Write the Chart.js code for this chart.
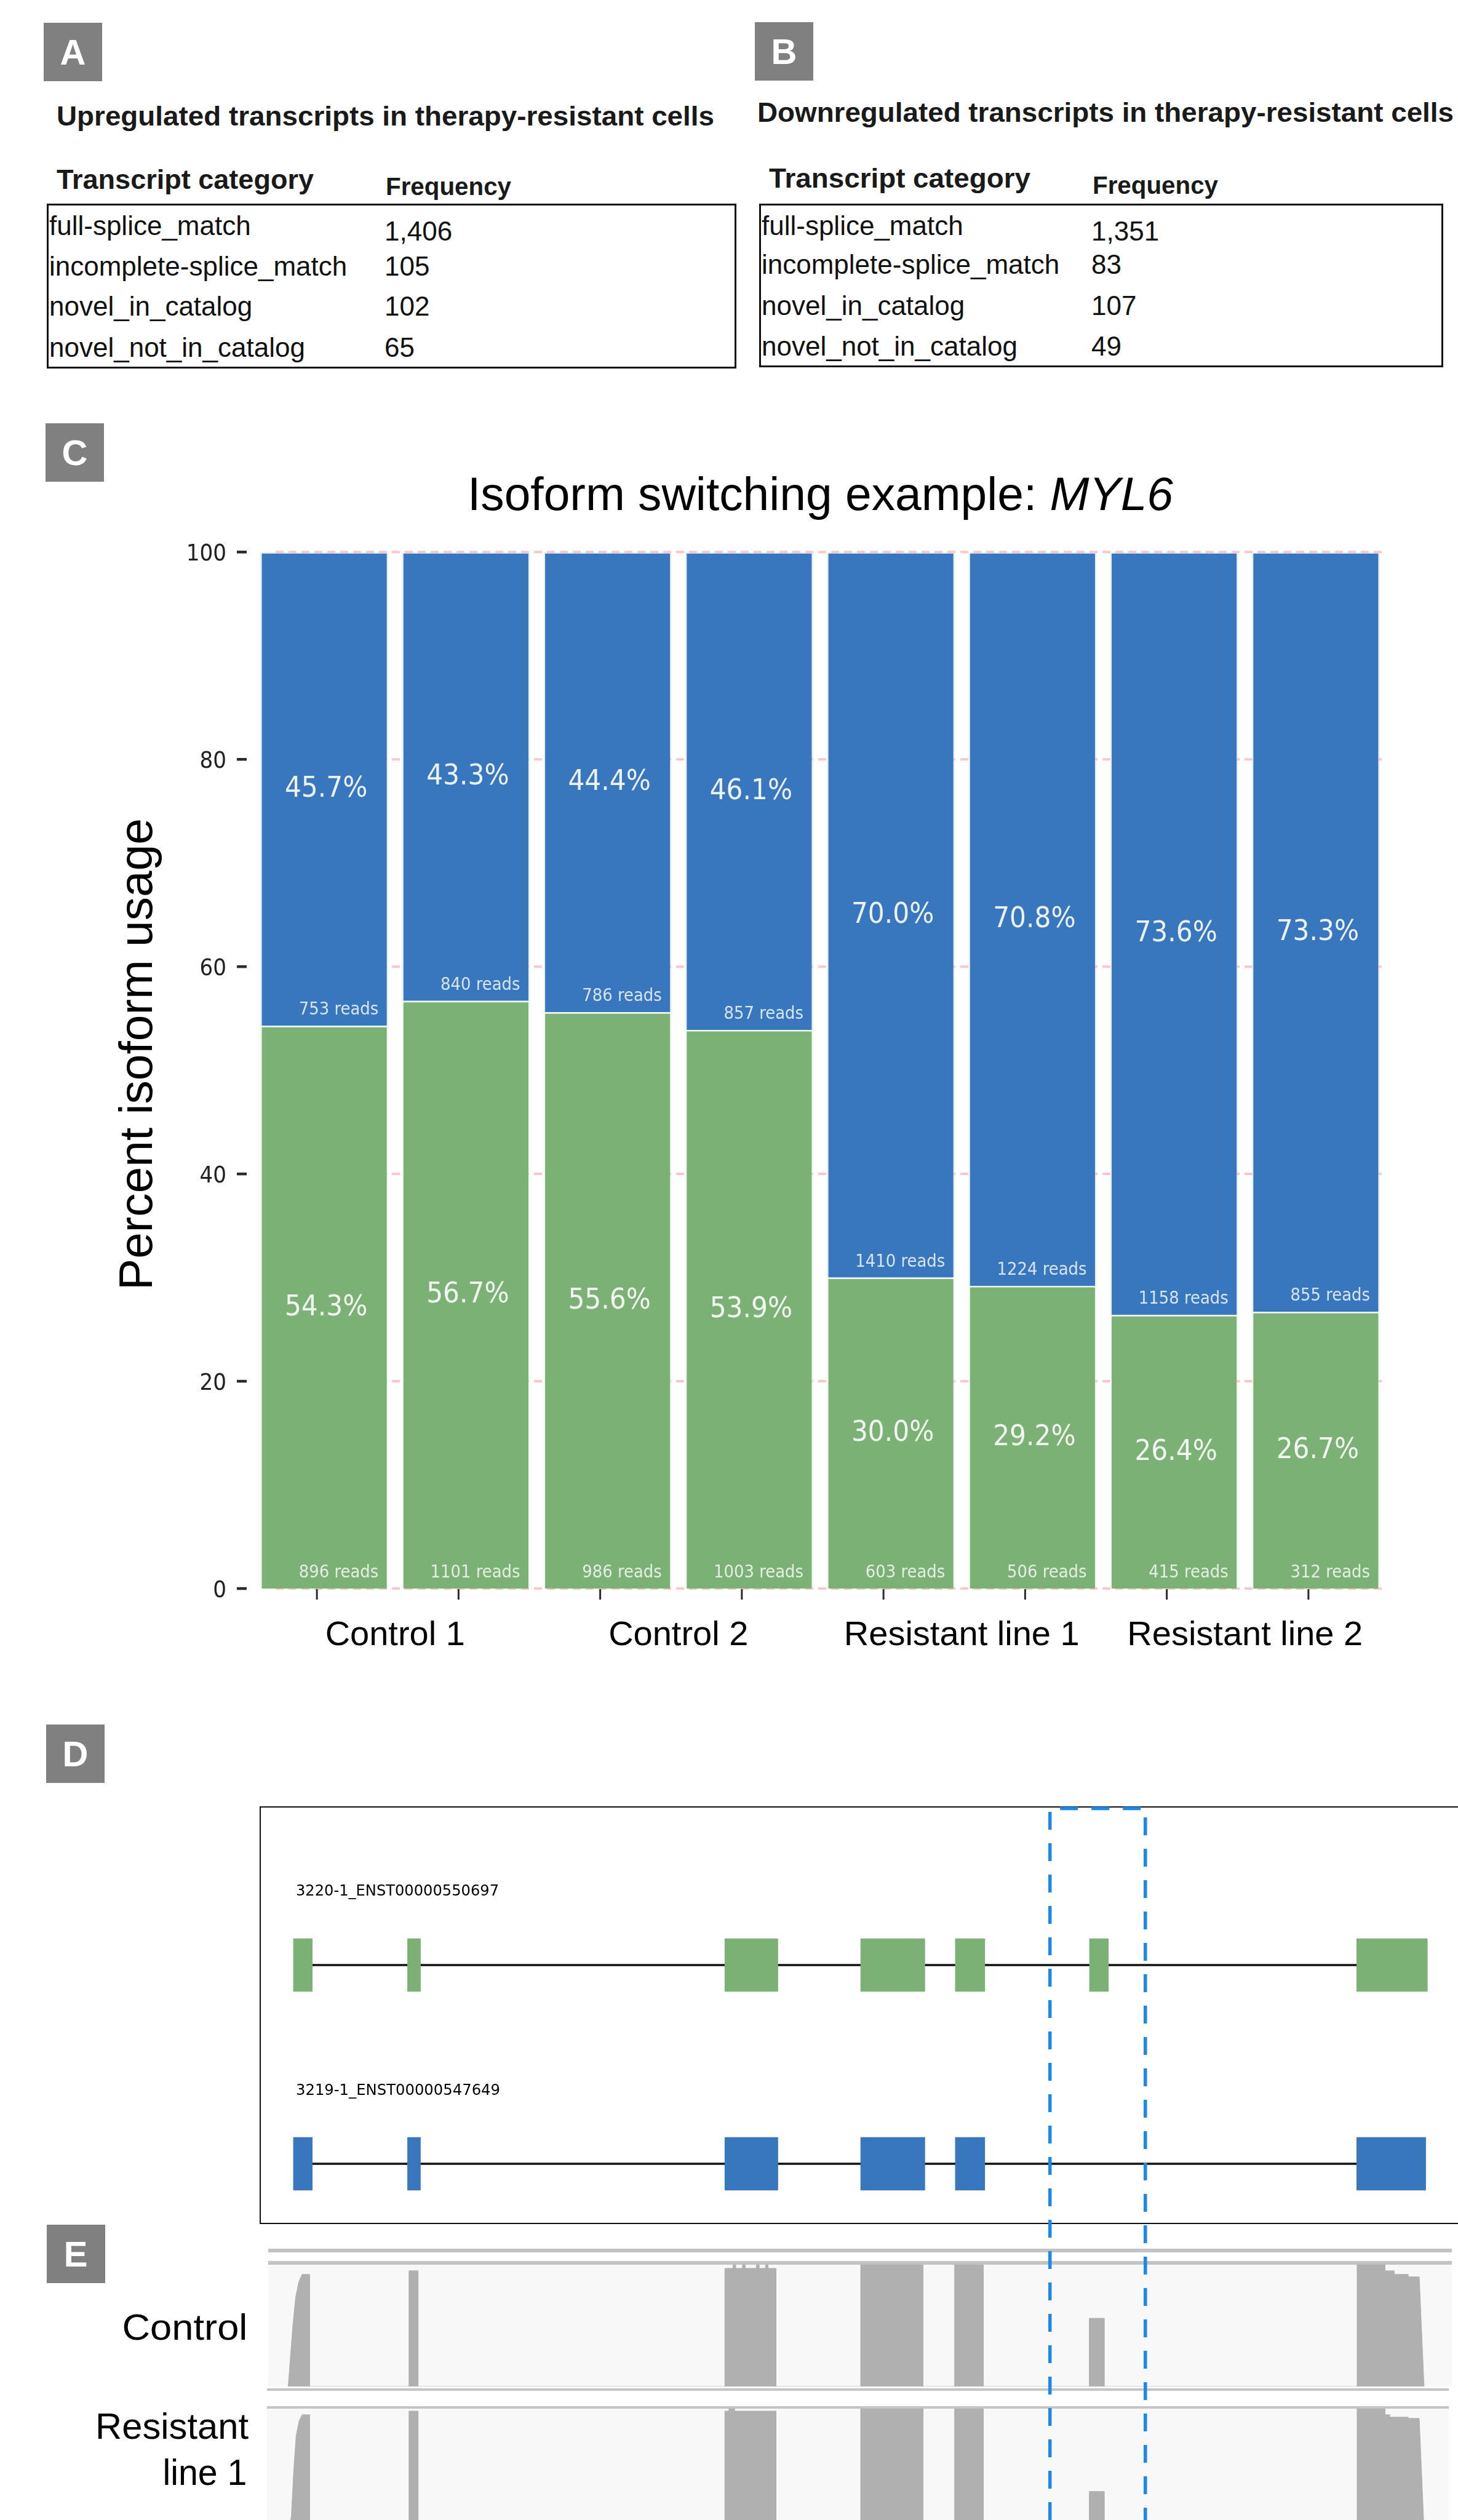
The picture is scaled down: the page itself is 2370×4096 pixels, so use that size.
<!DOCTYPE html>
<html>
<head>
<meta charset="utf-8">
<title>MYL6 isoform switching</title>
<script src="https://cdn.jsdelivr.net/npm/chart.js@4.4.1/dist/chart.umd.min.js"></script>
<style>
  html, body { margin: 0; padding: 0; background: #fff; }
  body { width: 2370px; height: 4096px; position: relative; overflow: hidden; }
  .txt { position: absolute; white-space: pre; z-index: 5; }
  .box { position: absolute; box-sizing: border-box; }
  canvas { position: absolute; }
</style>
</head>
<body>
<script>
// ---------- Panels A / B: transcript categories of regulated isoforms ----------
const transcriptCategories = ['full-splice_match', 'incomplete-splice_match', 'novel_in_catalog', 'novel_not_in_catalog'];
const upregulatedCounts = [1406, 105, 102, 65];
const downregulatedCounts = [1351, 83, 107, 49];

// ---------- Panel C: isoform usage per sample ----------
const sampleGroups = ['Control 1', 'Control 2', 'Resistant line 1', 'Resistant line 2'];
const replicates = ['a', 'b'];
const isoform550697Pct = [54.3, 56.7, 55.6, 53.9, 30.0, 29.2, 26.4, 26.7];
const isoform547649Pct = [45.7, 43.3, 44.4, 46.1, 70.0, 70.8, 73.6, 73.3];
const isoform550697Reads = [896, 1101, 986, 1003, 603, 506, 415, 312];
const isoform547649Reads = [753, 840, 786, 857, 1410, 1224, 1158, 855];
const percentTicks = [0, 20, 40, 60, 80, 100];

// ---------- Panel D: transcript models (bp from locus start) ----------
const transcriptIds = ['3220-1_ENST00000550697', '3219-1_ENST00000547649'];
const transcriptExons = [
  [[183, 285], [798, 868], [2508, 2794], [3240, 3586], [3750, 3909], [4473, 4575], [5913, 6294]],
  [[183, 285], [798, 868], [2508, 2794], [3240, 3586], [3750, 3909], null, [5913, 6285]]
];
const locusRange = [0, 6492];
const skippedExonWindow = [4260, 4774];

// ---------- Panel E: read coverage, [bp, relative depth] ----------
const trackNames = ['Control', 'Resistant line 1'];
const controlCoverage = [
  [155, 0], [165, 20], [180, 50], [195, 73], [212, 86], [230, 92], [270, 92], [270, 0],
  [806, 0], [806, 95], [855, 95], [855, 0],
  [2508, 0], [2508, 97], [2552, 97], [2552, 100], [2566, 100], [2566, 97], [2603, 97], [2603, 100],
  [2617, 100], [2617, 97], [2678, 97], [2678, 100], [2692, 100], [2692, 97], [2727, 97], [2727, 100],
  [2741, 100], [2741, 97], [2784, 97], [2784, 0],
  [3240, 0], [3240, 100], [3576, 100], [3576, 0],
  [3746, 0], [3746, 100], [3901, 100], [3901, 0],
  [4472, 0], [4472, 56], [4552, 56], [4552, 0],
  [5915, 0], [5915, 100], [6065, 100], [6065, 95], [6114, 95], [6114, 92], [6190, 92], [6190, 90], [6250, 90], [6276, 0]
];
const resistantCoverage = [
  [160, 0], [172, 12], [185, 50], [198, 78], [214, 90], [230, 95], [270, 95], [270, 0],
  [806, 0], [806, 98], [855, 98], [855, 0],
  [2508, 0], [2508, 98], [2530, 98], [2530, 100], [2560, 100], [2560, 98], [2784, 98], [2784, 0],
  [3240, 0], [3240, 100], [3576, 100], [3576, 0],
  [3746, 0], [3746, 100], [3901, 100], [3901, 0],
  [4472, 0], [4472, 32], [4552, 32], [4552, 0],
  [5915, 0], [5915, 100], [6065, 100], [6065, 95], [6090, 95], [6090, 93], [6190, 93], [6190, 92], [6250, 92], [6276, 0]
];

// ---------- styling ----------
const GREEN = '#7bb174';
const BLUE = '#3877be';
const HIGHLIGHT = '#1e88e5';
const COVERAGE = '#b0b0b0';
const SANS = "'Liberation Sans', Arial, sans-serif";
const DEJAVU = "'DejaVu Sans', sans-serif";

Chart.defaults.font.family = DEJAVU;

// ---------- text helpers ----------
const mctx = document.createElement('canvas').getContext('2d');
function fontOf(o) {
  return `${o.italic ? 'italic ' : ''}${o.bold ? 'bold ' : ''}${o.size}px ${o.family || SANS}`;
}
// Places text with its baseline at y; x is the left/center/right anchor; optional fit width.
function addText(o) {
  const parts = o.parts || [{ text: o.text }];
  const el = document.createElement('div');
  el.className = 'txt';
  let natural = 0, asc = 0, desc = 0;
  const runs = [];
  for (const p of parts) {
    const f = fontOf({ ...o, ...p });
    mctx.font = f;
    const m = mctx.measureText(p.text);
    natural += m.width;
    asc = Math.max(asc, m.fontBoundingBoxAscent);
    desc = Math.max(desc, m.fontBoundingBoxDescent);
    runs.push([p.text, f]);
  }
  const lh = asc + desc;
  el.style.font = fontOf({ ...o, ...parts[0] });
  el.style.lineHeight = lh + 'px';
  for (const [t, f] of runs) {
    const s = document.createElement('span');
    s.textContent = t;
    s.style.font = f;
    s.style.lineHeight = lh + 'px';
    el.appendChild(s);
  }
  const sx = o.width ? o.width / natural : 1;
  const ox = o.align === 'right' ? natural : o.align === 'center' ? natural / 2 : 0;
  el.style.left = (o.x - ox) + 'px';
  el.style.top = (o.y - asc) + 'px';
  el.style.color = o.color || '#000';
  el.style.transformOrigin = `${ox}px ${asc}px`;
  el.style.transform = (o.rotate ? `rotate(${o.rotate}deg) ` : '') + `scaleX(${sx})`;
  document.body.appendChild(el);
}
function addBox(left, top, width, height, css) {
  const d = document.createElement('div');
  d.className = 'box';
  Object.assign(d.style, { left: left + 'px', top: top + 'px', width: width + 'px', height: height + 'px' }, css);
  document.body.appendChild(d);
  return d;
}
function panelTag(letter, left, top) {
  addBox(left, top, 95, 95, { background: '#808080', zIndex: 4 });
  addText({ text: letter, x: left + 47.5, y: top + 47.5 + 0.716 * 58 / 2, size: 58, bold: true, align: 'center', color: '#fff' });
}
function makeCanvas(left, top, w, h, z) {
  const c = document.createElement('canvas');
  c.width = w; c.height = h;
  Object.assign(c.style, { left: left + 'px', top: top + 'px', width: w + 'px', height: h + 'px', zIndex: z });
  document.body.appendChild(c);
  return c;
}
// Canvas text squeezed horizontally by sx around its anchor.
function squeezedText(ctx, text, x, y, sx, align) {
  ctx.save();
  ctx.translate(x, y);
  ctx.scale(sx, 1);
  ctx.textAlign = align;
  ctx.textBaseline = 'alphabetic';
  ctx.fillText(text, 0, 0);
  ctx.restore();
}
const fmt = n => n.toLocaleString('en-US');

// ---------- Panels A and B: category tables ----------
function categoryTable(cfg) {
  panelTag(cfg.tag, cfg.tagX, cfg.tagY);
  addText({ text: cfg.title, x: cfg.titleX, width: cfg.titleW, y: cfg.titleY, size: 45, bold: true, color: '#1a1a1a' });
  addText({ text: 'Transcript category', x: cfg.titleX + cfg.headOff, width: cfg.headW, y: cfg.headY, size: 45, bold: true, color: '#1a1a1a' });
  addText({ text: 'Frequency', x: cfg.valueX + 2, width: 204, y: cfg.headY + 10, size: 40, bold: true, color: '#1a1a1a' });
  addBox(cfg.boxX, 331, cfg.boxW, cfg.boxH, { border: '3px solid #111' });
  transcriptCategories.forEach((cat, i) => {
    addText({ text: cat, x: cfg.boxX + 4, y: cfg.rowY[i], size: 44, color: '#111' });
    addText({ text: fmt(cfg.counts[i]), x: cfg.valueX, y: cfg.rowY[i] + (i === 0 ? 9 : 0), size: 44, color: '#111' });
  });
}
categoryTable({
  tag: 'A', tagX: 71, tagY: 37, title: 'Upregulated transcripts in therapy-resistant cells',
  titleX: 92, titleW: 1069, titleY: 204, headOff: 0, headW: 418, headY: 307,
  valueX: 625, boxX: 76, boxW: 1121, boxH: 268, rowY: [382, 448, 513, 580], counts: upregulatedCounts
});
categoryTable({
  tag: 'B', tagX: 1227, tagY: 36, title: 'Downregulated transcripts in therapy-resistant cells',
  titleX: 1231, titleW: 1132, titleY: 198, headOff: 19, headW: 425, headY: 305,
  valueX: 1774, boxX: 1234, boxW: 1112, boxH: 266, rowY: [382, 445, 512, 578], counts: downregulatedCounts
});

// ---------- Panel C: stacked isoform usage ----------
panelTag('C', 74, 688);
addText({ parts: [{ text: 'Isoform switching example: ' }, { text: 'MYL6', italic: true }], x: 760, width: 1147, y: 829, size: 76 });
addText({ text: 'Percent isoform usage', x: 247, y: 1713 + 767 / 2, width: 767, size: 76, rotate: -90 });

const sampleLabels = sampleGroups.flatMap(g => replicates.map(r => `${g} ${r}`));
const TICK_SHIFT = -12;
const PLOT_TOP = 47.3;

const usagePlugin = {
  id: 'usageDecor',
  beforeDatasetsDraw(chart) {
    const { ctx, chartArea, scales: { y } } = chart;
    ctx.save();
    ctx.strokeStyle = '#ffc6c6';
    ctx.lineWidth = 4;
    ctx.setLineDash([13, 8]);
    percentTicks.forEach(v => {
      const py = y.getPixelForValue(v);
      ctx.beginPath(); ctx.moveTo(chartArea.left + 36, py); ctx.lineTo(chartArea.right, py); ctx.stroke();
    });
    ctx.restore();
  },
  afterDatasetsDraw(chart) {
    const { ctx } = chart;
    ctx.save();
    chart.data.datasets.forEach((ds, di) => {
      chart.getDatasetMeta(di).data.forEach((bar, i) => {
        const { x, y, base, width } = bar.getProps(['x', 'y', 'base', 'width'], true);
        const top = Math.min(y, base), bottom = Math.max(y, base);
        ctx.fillStyle = 'rgba(255,255,255,0.9)';
        ctx.font = `46px ${DEJAVU}`;
        squeezedText(ctx, ds.data[i].toFixed(1) + '%', x + 3, (top + bottom) / 2 + 13, 0.92, 'center');
        ctx.fillStyle = 'rgba(255,255,255,0.8)';
        ctx.font = `28px ${DEJAVU}`;
        squeezedText(ctx, `${ds.reads[i]} reads`, x + width / 2 - 16, bottom - 18, 0.925, 'right');
      });
    });
    ctx.restore();
  },
  afterDraw(chart) {
    const { ctx, chartArea, scales: { y } } = chart;
    const bars = chart.getDatasetMeta(0).data;
    ctx.save();
    // value axis: tick marks and labels
    ctx.strokeStyle = '#2b2b2b';
    ctx.fillStyle = '#222';
    ctx.font = `38px ${DEJAVU}`;
    percentTicks.forEach(v => {
      const py = y.getPixelForValue(v);
      ctx.lineWidth = 4.5;
      ctx.beginPath(); ctx.moveTo(chartArea.left - 27, py); ctx.lineTo(chartArea.left - 11, py); ctx.stroke();
      squeezedText(ctx, String(v), chartArea.left - 44, py + 13.8, 0.9, 'right');
    });
    // sample ticks and group labels
    ctx.lineWidth = 3;
    bars.forEach(b => {
      ctx.beginPath(); ctx.moveTo(b.x + TICK_SHIFT, chartArea.bottom + 1); ctx.lineTo(b.x + TICK_SHIFT, chartArea.bottom + 18); ctx.stroke();
    });
    ctx.fillStyle = '#000';
    ctx.font = `56px ${SANS}`;
    ctx.textAlign = 'center';
    ctx.textBaseline = 'alphabetic';
    sampleGroups.forEach((g, gi) => {
      const cx = (bars[2 * gi].x + bars[2 * gi + 1].x) / 2;
      ctx.fillText(g, cx, chartArea.bottom + 92);
    });
    ctx.restore();
  }
};

const usageChart = new Chart(makeCanvas(0, 850, 2370, 1900, 2), {
  type: 'bar',
  data: {
    labels: sampleLabels,
    datasets: [
      { label: transcriptIds[0], data: isoform550697Pct, reads: isoform550697Reads, backgroundColor: GREEN,
        borderColor: 'rgba(225,240,220,0.45)', borderWidth: 2.5, barPercentage: 0.904, categoryPercentage: 1 },
      { label: transcriptIds[1], data: isoform547649Pct, reads: isoform547649Reads, backgroundColor: BLUE,
        borderColor: 'rgba(200,222,245,0.45)', borderWidth: 2.5, barPercentage: 0.904, categoryPercentage: 1 }
    ]
  },
  options: {
    responsive: false, animation: false, devicePixelRatio: 1, events: [],
    layout: { padding: { top: PLOT_TOP, right: 116, bottom: 0, left: 0 } },
    plugins: { legend: { display: false }, tooltip: { enabled: false } },
    scales: {
      x: {
        stacked: true,
        grid: { display: false, drawTicks: false }, border: { display: false },
        ticks: { display: false },
        afterFit: s => { s.height = 168; }
      },
      y: {
        stacked: true, min: 0, max: 100,
        grid: { display: false, drawTicks: false }, border: { display: false },
        ticks: { display: false, stepSize: 20 },
        afterFit: s => { s.width = 412; }
      }
    }
  },
  plugins: [usagePlugin]
});
// keep the plot top at the intended height even if the layout adds label room
for (let k = 0; k < 2; k++) {
  const dTop = usageChart.chartArea.top - PLOT_TOP;
  if (Math.abs(dTop) < 0.5) break;
  usageChart.options.layout.padding.top -= dTop;
  usageChart.update();
}

// ---------- Panel D: transcript structures ----------
panelTag('D', 75, 2803);
addBox(421.7, 2935.5, 2100, 679, { borderTop: '2.5px solid #111', borderLeft: '2.5px solid #111', borderBottom: '2.5px solid #111', zIndex: 1 });
addText({ text: transcriptIds[0], x: 481, width: 330, y: 3081, size: 24, family: DEJAVU });
addText({ text: transcriptIds[1], x: 481, width: 332, y: 3405, size: 24, family: DEJAVU });

const LOCUS_PAD = { left: 421.7, right: 20 };
const rowColors = [GREEN, BLUE];
const exonCount = Math.max(...transcriptExons.map(t => t.length));
const exonDatasets = Array.from({ length: exonCount }, (_, k) => ({
  data: transcriptExons.map(t => t[k]),
  backgroundColor: rowColors,
  barThickness: 86,
  grouped: false,
  order: 1
}));
const intronDataset = {
  data: transcriptExons.map(t => {
    const ex = t.filter(Boolean);
    return [ex[0][1], ex[ex.length - 1][0]];
  }),
  backgroundColor: '#111',
  barThickness: 3,
  grouped: false,
  order: 2
};

const highlightPlugin = {
  id: 'skippedExonWindow',
  afterDraw(chart) {
    const { ctx, scales: { x } } = chart;
    const xl = x.getPixelForValue(skippedExonWindow[0]);
    const xr = x.getPixelForValue(skippedExonWindow[1]);
    const top = 39.5;
    ctx.save();
    ctx.strokeStyle = HIGHLIGHT;
    ctx.lineWidth = 5.5;
    ctx.setLineDash([29, 22]);
    ctx.beginPath();
    ctx.moveTo(xl, chart.height); ctx.lineTo(xl, top); ctx.lineTo(xr, top); ctx.lineTo(xr, chart.height);
    ctx.stroke();
    ctx.restore();
  }
};

new Chart(makeCanvas(0, 2900, 2400, 1196, 3), {
  type: 'bar',
  data: { labels: transcriptIds, datasets: [intronDataset, ...exonDatasets] },
  options: {
    indexAxis: 'y',
    responsive: false, animation: false, devicePixelRatio: 1, events: [],
    layout: { padding: { left: LOCUS_PAD.left, right: LOCUS_PAD.right, top: 132.5, bottom: 417.5 } },
    plugins: { legend: { display: false }, tooltip: { enabled: false } },
    scales: {
      x: { type: 'linear', min: locusRange[0], max: locusRange[1], display: false },
      y: { type: 'category', offset: true, display: false }
    }
  },
  plugins: [highlightPlugin]
});

// ---------- Panel E: coverage tracks ----------
panelTag('E', 75.5, 3616);
addBox(436, 3655, 1924, 5.6, { background: '#c2c2c2' });
addBox(436, 3675.4, 1924, 5.6, { background: '#c2c2c2' });
addBox(436, 3681, 1924, 198, { background: '#f8f8f8' });
addBox(433.5, 3881.5, 1921, 4.6, { background: '#c4c4c4' });
addBox(433.5, 3910.5, 1921, 4.6, { background: '#c4c4c4' });
addBox(433.5, 3915, 1921, 200, { background: '#f8f8f8' });

addText({ text: trackNames[0], x: 402, width: 204, y: 3803, size: 60, align: 'right' });
const resWord = trackNames[1].split(' ')[0];
const lineWord = trackNames[1].split(' ').slice(1).join(' ');
addText({ text: resWord, x: 404, width: 249, y: 3964, size: 60, align: 'right' });
addText({ text: lineWord, x: 401, width: 137, y: 4039, size: 60, align: 'right' });

function coverageTrack(top, points) {
  new Chart(makeCanvas(0, top, 2400, 198, 2), {
    type: 'line',
    data: {
      datasets: [{
        data: points.map(([x, y]) => ({ x, y })),
        fill: 'origin', backgroundColor: COVERAGE, borderColor: COVERAGE, borderWidth: 1,
        pointRadius: 0, tension: 0
      }]
    },
    options: {
      responsive: false, animation: false, devicePixelRatio: 1, events: [],
      layout: { padding: { left: LOCUS_PAD.left, right: LOCUS_PAD.right, top: 0, bottom: 0 } },
      plugins: { legend: { display: false }, tooltip: { enabled: false } },
      scales: {
        x: { type: 'linear', min: locusRange[0], max: locusRange[1], display: false },
        y: { type: 'linear', min: 0, max: 100, display: false }
      }
    }
  });
}
coverageTrack(3681, controlCoverage);
coverageTrack(3915, resistantCoverage);
</script>
</body>
</html>
